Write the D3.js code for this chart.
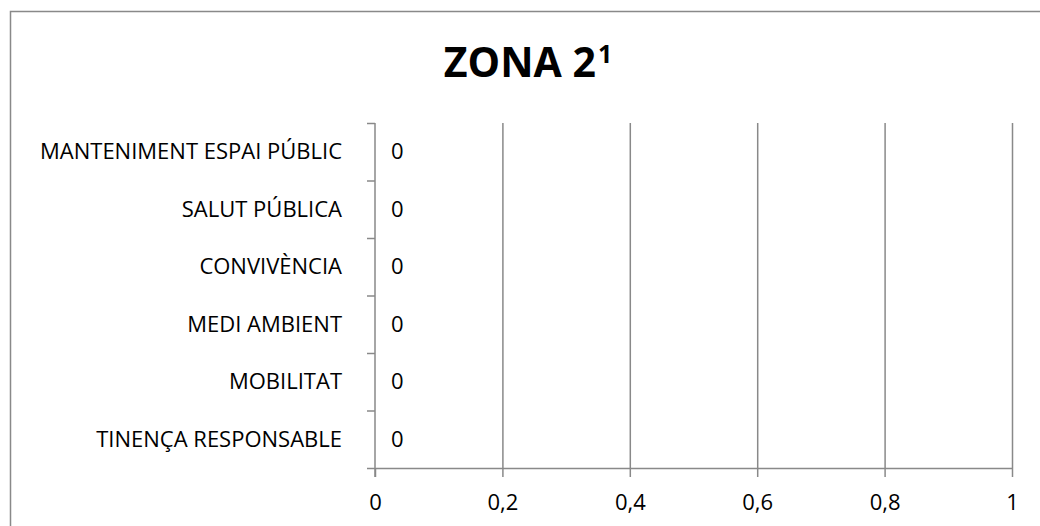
<!DOCTYPE html>
<html>
<head>
<meta charset="utf-8">
<script src="https://cdn.jsdelivr.net/npm/d3@7"></script>
<style>
  body { margin: 0; background: #fff; }
  svg text { font-family: "Open Sans", sans-serif; fill: #000; }
</style>
</head>
<body>
<div id="chart"></div>
<script>
// data
const categories = [
    'MANTENIMENT ESPAI PÚBLIC',
    'SALUT PÚBLICA',
    'CONVIVÈNCIA',
    'MEDI AMBIENT',
    'MOBILITAT',
    'TINENÇA RESPONSABLE'
];
const values = [0, 0, 0, 0, 0, 0];
const xTicks = [0, 0.2, 0.4, 0.6, 0.8, 1];
const title = 'ZONA 2';
const titleSup = '1';

const w = 1040;
const h = 526;
const plotLeft = 375;
const plotRight = 1012;
const plotTop = 123;
const plotBottom = 468;
const grey = '#898989';
const fontSize = '22px';

const svg = d3.select('#chart')
    .append('svg')
    .attr('width', w)
    .attr('height', h);

// outer frame (runs past the right and bottom edge)
svg.append('rect')
    .attr('x', 10.5)
    .attr('y', 11.5)
    .attr('width', w + 20)
    .attr('height', h + 20)
    .attr('fill', 'none')
    .attr('stroke', grey)
    .attr('stroke-width', 1.5);

const t = svg.append('text')
    .attr('x', 528)
    .attr('y', 77)
    .attr('text-anchor', 'middle')
    .style('font-weight', 'bold')
    .style('font-size', '41px')
    .text(title);
t.append('tspan')
    .attr('dy', -14)
    .attr('dx', 2)
    .style('font-size', '25px')
    .text(titleSup);

const xScale = d3.scaleLinear()
    .domain([0, 1])
    .range([plotLeft, plotRight]);

const yScale = d3.scaleBand()
    .domain(categories)
    .range([plotTop, plotBottom]);

// boundaries between categories, for the y axis ticks
const yEdge = d3.scaleLinear()
    .domain([0, categories.length])
    .range([plotTop, plotBottom]);

// gridlines
svg.append('g')
    .attr('class', 'grid')
    .attr('transform', 'translate(0,' + plotBottom + ')')
    .call(d3.axisBottom(xScale).tickValues(xTicks.slice(1)).tickSize(-(plotBottom - plotTop)).tickFormat(''))
    .call(g => g.select('.domain').remove())
    .call(g => g.selectAll('line').attr('stroke', grey).attr('stroke-width', 1.5));

// x axis
const fmt = d3.format('~g');
svg.append('g')
    .attr('transform', 'translate(0,' + plotBottom + ')')
    .call(d3.axisBottom(xScale)
        .tickValues(xTicks)
        .tickSize(9)
        .tickSizeOuter(0)
        .tickPadding(17)
        .tickFormat(d => fmt(d).replace('.', ',')))
    .call(g => g.select('.domain').attr('stroke', grey).attr('stroke-width', 1.5))
    .call(g => g.selectAll('line').attr('stroke', grey).attr('stroke-width', 1.5))
    .call(g => g.selectAll('text').style('font-size', fontSize).attr('fill', '#000'));

// y axis
svg.append('g')
    .attr('transform', 'translate(' + plotLeft + ',0)')
    .call(d3.axisLeft(yEdge)
        .tickValues(d3.range(categories.length + 1))
        .tickSize(8)
        .tickSizeOuter(0)
        .tickFormat(''))
    .call(g => g.select('.domain').attr('stroke', grey).attr('stroke-width', 1.5).attr('d', 'M0,' + plotTop + 'V' + (plotBottom + 9)))
    .call(g => g.selectAll('line').attr('stroke', grey).attr('stroke-width', 1.5));

// category labels
svg.append('g')
    .selectAll('text')
    .data(categories)
    .enter()
    .append('text')
    .attr('x', 342)
    .attr('y', d => yScale(d) + yScale.bandwidth() / 2)
    .attr('dy', '0.35em')
    .attr('text-anchor', 'end')
    .style('font-size', fontSize)
    .text(d => d);

// bars (all zero)
svg.append('g')
    .selectAll('rect')
    .data(values)
    .enter()
    .append('rect')
    .attr('x', xScale(0))
    .attr('y', (d, i) => yScale(categories[i]) + yScale.bandwidth() * 0.2)
    .attr('width', d => xScale(d) - xScale(0))
    .attr('height', yScale.bandwidth() * 0.6)
    .attr('fill', '#4f81bd');

// value labels
svg.append('g')
    .selectAll('text')
    .data(values)
    .enter()
    .append('text')
    .attr('x', d => xScale(d) + 16)
    .attr('y', (d, i) => yScale(categories[i]) + yScale.bandwidth() / 2)
    .attr('dy', '0.35em')
    .style('font-size', fontSize)
    .text(d => d);
</script>
</body>
</html>
